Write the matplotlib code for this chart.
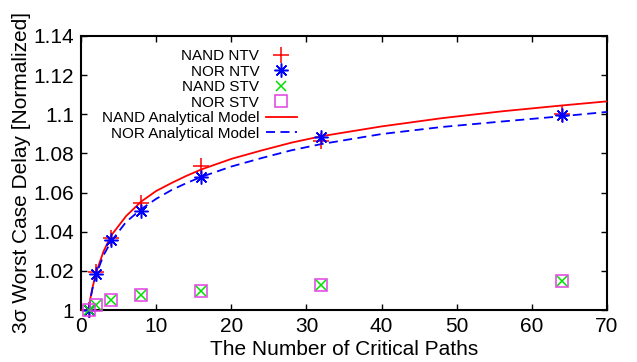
import numpy as np
import matplotlib.pyplot as plt
from matplotlib.ticker import FormatStrFormatter

plt.rcParams['font.family'] = ['Liberation Sans', 'DejaVu Sans']

# Messpunkte (Anzahl kritischer Pfade)
paths = [1, 2, 4, 8, 16, 32, 64]
nand_ntv = [1.0, 1.0195, 1.0366, 1.0545, 1.0735, 1.0865, 1.1000]
nor_ntv = [1.0, 1.0182, 1.0358, 1.0508, 1.0681, 1.0885, 1.0996]
nand_stv = [1.0, 1.0026, 1.0050, 1.0077, 1.0099, 1.0126, 1.0148]
nor_stv = [1.0, 1.0026, 1.0050, 1.0077, 1.0099, 1.0126, 1.0148]

# Analytisches Modell
model_x = [1, 1.25, 1.5, 2, 3, 4, 6, 8, 10, 12, 14, 16, 20, 24, 28, 32, 40, 48, 56, 64, 70]
nand_model = [1.0, 1.006, 1.011, 1.019, 1.030, 1.038, 1.048, 1.0554, 1.0608, 1.0648,
              1.0685, 1.0718, 1.0772, 1.0815, 1.0855, 1.0888, 1.0938, 1.098, 1.1015,
              1.1045, 1.1066]
nor_model = [1.0, 1.0055, 1.0105, 1.018, 1.028, 1.035, 1.045, 1.0515, 1.0568, 1.0612,
             1.0648, 1.068, 1.0733, 1.0776, 1.0816, 1.0848, 1.0899, 1.0935, 1.0963,
             1.099, 1.1012]

fig = plt.figure(figsize=(6.37, 3.62), dpi=100)
ax = fig.add_axes([0.1272, 0.1436, 0.9529 - 0.1272, 0.9006 - 0.1436])

ax.plot(paths, nand_ntv, '+', color='#ff0000', ms=11, mew=1.1, label='NAND NTV', clip_on=False, zorder=4)
ax.plot(paths, nor_ntv, marker=(8, 2, 0), ls='none', color='#0000ff', ms=10, mew=1.1, label='NOR NTV', clip_on=False, zorder=4)
ax.plot(paths, nand_stv, 'x', color='#00e000', ms=7, mew=1.1, label='NAND STV', clip_on=False, zorder=4)
ax.plot(paths, nor_stv, 's', mfc='none', mec='#e040e0', ms=9, mew=1.1, label='NOR STV', clip_on=False, zorder=4)
ax.plot(model_x, nand_model, '-', color='#ff0000', lw=1.3, label='NAND Analytical Model', zorder=3)
ax.plot(model_x, nor_model, '--', color='#0000ff', lw=1.3, dashes=(5, 3), label='NOR Analytical Model', zorder=3)

ax.set_xlim(0, 70)
ax.set_ylim(1, 1.14)
ax.set_xticks(np.arange(0, 71, 10))
ax.set_yticks(np.arange(1, 1.141, 0.02))
ax.yaxis.set_major_formatter(FormatStrFormatter('%g'))
ax.tick_params(direction='in', length=4, width=1, top=True, right=True, labelsize=15, pad=5)
for s in ax.spines.values():
    s.set_linewidth(1.5)

ax.set_xlabel('The Number of Critical Paths', fontsize=15, labelpad=3)
ax.set_ylabel('3σ Worst Case Delay [Normalized]', fontsize=15, labelpad=2)

ax.legend(loc='upper right', bbox_to_anchor=(0.41, 0.952), frameon=False, markerfirst=False,
          fontsize=11, borderpad=0, labelspacing=0.1, handlelength=2.0, handletextpad=0.45,
          borderaxespad=0)

fig.savefig('out.png', dpi=100)
